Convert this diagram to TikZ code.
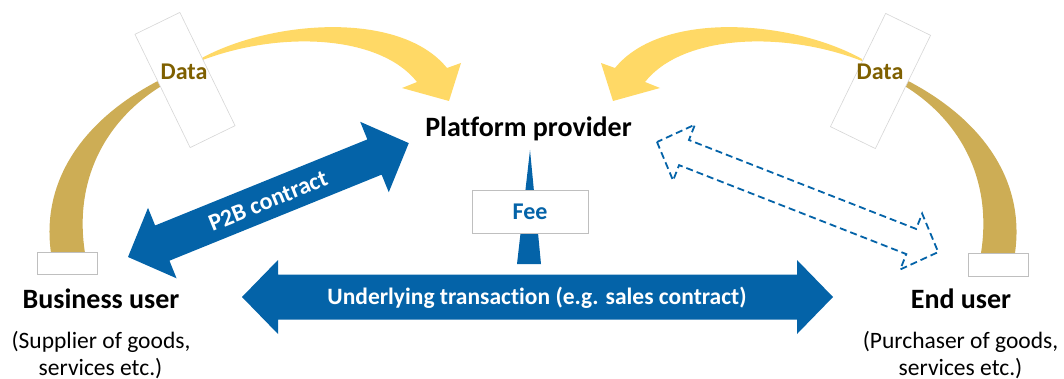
\documentclass[tikz,border=0pt]{standalone}
\usepackage{fontspec}
\setmainfont{Carlito}[Ligatures=NoCommon]
\definecolor{pblue}{RGB}{4,99,168}
\definecolor{pgold}{RGB}{205,173,85}
\definecolor{pyellow}{RGB}{255,217,102}
\definecolor{pdata}{RGB}{127,96,0}
\definecolor{pbox}{RGB}{191,191,191}
\tikzset{
  title/.style={font=\fontsize{28}{32}\selectfont\bfseries, anchor=base, inner sep=0pt},
  sub/.style={font=\fontsize{23.5}{27}\selectfont, anchor=base, inner sep=0pt},
  lbl/.style={font=\fontsize{24}{28}\selectfont\bfseries, inner sep=0pt},
  stub/.style={draw=pbox, fill=white, line width=1pt, inner sep=0pt},
  datarect/.style={draw=black!16, fill=white, line width=0.6pt, minimum width=50pt, minimum height=126pt, inner sep=0pt},
  blockarrow/.style={fill=pblue},
  dasharrow/.style={draw=pblue, line width=1.8pt, dash pattern=on 7pt off 4pt, line join=miter},
  goldarc/.style={fill=pgold},
  yellowarc/.style={fill=pyellow},
}
\begin{document}
\begin{tikzpicture}[x=1pt,y=-1pt]
\useasboundingbox (0,0) rectangle (1064,379);

% named end points
\coordinate (p2bL) at (128,257);
\coordinate (txL) at (242,297);
\coordinate (dsL) at (657,142);

% gold arcs (behind the data boxes)
\fill[goldarc] (51,253) .. controls (40,175) and (90,112) .. (172,74) -- (172,80) .. controls (115,110) and (72,170) .. (85,253) -- cycle;
\begin{scope}[shift={(1066,0)}, xscale=-1]
\fill[goldarc] (51,253) .. controls (40,175) and (90,112) .. (172,74) -- (172,80) .. controls (115,110) and (72,170) .. (85,253) -- cycle;
\end{scope}

% yellow curved arrows
\fill[yellowarc] (200,59) .. controls (270,20) and (400,10) .. (447,68) -- (461,63) -- (449,101) -- (402,88) -- (417,82) .. controls (380,35) and (280,30) .. (200,61) -- cycle;
\begin{scope}[shift={(1062,0)}, xscale=-1]
\fill[yellowarc] (200,59) .. controls (270,20) and (400,10) .. (447,68) -- (461,63) -- (449,101) -- (402,88) -- (417,82) .. controls (380,35) and (280,30) .. (200,61) -- cycle;
\end{scope}

% data boxes
\node[datarect, rotate=26] (dataLbox) at (185,80) {};
\node[datarect, rotate=-26] (dataRbox) at (880.5,81) {};
\node[lbl, text=pdata, anchor=base] (dataL) at (184,80) {Data};
\node[lbl, text=pdata, anchor=base] (dataR) at (880,80) {Data};

% stubs under the user arcs
\node[stub, minimum width=60pt, minimum height=22pt] (stubL) at (67,263) {};
\node[stub, minimum width=60pt, minimum height=23pt] (stubR) at (998,264.5) {};

% P2B contract arrow
\begin{scope}[shift={(p2bL)}, rotate=22.08]
\fill[blockarrow] (0,0) -- (37,38) -- (37,19) -- (266,19) -- (266,38) -- (303,0) -- (266,-38) -- (266,-19) -- (37,-19) -- (37,-38) -- cycle;
\end{scope}
\node[lbl, text=white, rotate=22.08] (p2b) at (268,201) {P2B contract};

% underlying transaction arrow
\begin{scope}[shift={(txL)}]
\fill[blockarrow] (0,0) -- (36,37) -- (36,22.5) -- (555,22.5) -- (555,37) -- (591,0) -- (555,-37) -- (555,-22.5) -- (36,-22.5) -- (36,-37) -- cycle;
\end{scope}
\node[lbl, font=\fontsize{23.5}{27}\selectfont\bfseries, text=white, anchor=base] (tx) at (537,304.5) {Underlying transaction (e.g. sales contract)};

% dashed double arrow platform <-> end user
\begin{scope}[shift={(dsL)}, rotate=-21.38]
\draw[dasharrow] (0,0) -- (29,30) -- (29,13.5) -- (273,13.5) -- (273,30) -- (302,0) -- (273,-30) -- (273,-13.5) -- (29,-13.5) -- (29,-30) -- cycle;
\end{scope}

% fee spike and box
\fill[blockarrow] (530,150) -- (541,264) -- (517,264) -- cycle;
\node[stub, minimum width=116pt, minimum height=42pt, font=\fontsize{24}{28}\selectfont\bfseries, text=pblue] (fee) at (530,212) {Fee};

% parties
\node[title] (platform) at (528.5,137) {Platform provider};
\node[title] (business) at (101,308) {Business user};
\node[sub] (businesssub1) at (101,348) {(Supplier of goods,};
\node[sub] (businesssub2) at (100.5,375) {services etc.)};
\node[title] (enduser) at (961,308) {End user};
\node[sub] (endsub1) at (960.5,348) {(Purchaser of goods,};
\node[sub] (endsub2) at (960.5,375) {services etc.)};
\end{tikzpicture}
\end{document}
